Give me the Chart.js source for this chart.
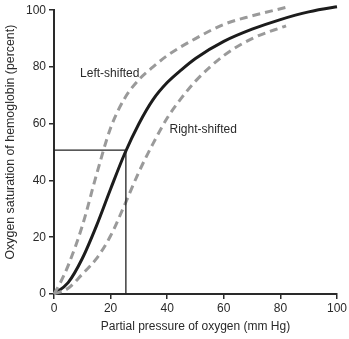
<!DOCTYPE html>
<html>
<head>
<meta charset="utf-8">
<script src="https://cdn.jsdelivr.net/npm/chart.js@4/dist/chart.umd.min.js"></script>
<style>
  html, body { margin: 0; padding: 0; background: #fff; }
  #wrap { width: 349px; height: 339px; }
</style>
</head>
<body>
<div id="wrap"><canvas id="odc"></canvas></div>
<script>
// partial pressure (mm Hg) and saturation (%) for each curve
let normalPO2 = [0, 5, 10, 15, 20, 25, 30, 35, 40, 45, 50, 60, 70, 80, 90, 100, 102];
let normalSat = [0, 4, 12.5, 24, 37, 49.5, 60, 68.5, 74.5, 79, 83, 89, 93.3, 96.7, 99.4, 101.2, 101.5];

let leftPO2 = [0, 2, 5, 10, 15, 20, 25, 30, 35, 40, 50, 60, 70, 82];
let leftSat = [0, 3.5, 10, 24, 42, 58.5, 69, 75.5, 80, 84, 90, 95, 98, 101];

let rightPO2 = [0, 5, 10, 15, 20, 25, 30, 35, 40, 45, 50, 60, 70, 82];
let rightSat = [0, 2, 7, 12.5, 20.5, 31.5, 43, 53, 62, 69, 75, 84, 90, 94.5];

// P50 marker: drop lines from the 50% point
let p50 = 25.4;
let p50Sat = 50.7;

let xTicks = [0, 20, 40, 60, 80, 100];
let yTicks = [0, 20, 40, 60, 80, 100];

let xTitle = "Partial pressure of oxygen (mm Hg)";
let yTitle = "Oxygen saturation of hemoglobin (percent)";

let curveLabels = [
  { text: "Left-shifted", x: 9.2, y: 77.5 },
  { text: "Right-shifted", x: 40.8, y: 58 }
];

function toPoints(xs, ys) {
  return xs.map((x, i) => ({ x: x, y: ys[i] }));
}

const FONT = "'Liberation Sans', Arial, sans-serif";
const INK = "#2a2a2a";

// curve names inside the plot, plus the y title (sits a little above centre)
let labelPlugin = {
  id: "curveLabels",
  afterDatasetsDraw(chart) {
    let c = chart.ctx;
    let sx = chart.scales.x, sy = chart.scales.y;
    let area = chart.chartArea;
    c.save();
    c.font = "12px " + FONT;
    c.fillStyle = INK;
    c.textAlign = "left";
    c.textBaseline = "middle";
    curveLabels.forEach(l => {
      c.fillText(l.text, sx.getPixelForValue(l.x), sy.getPixelForValue(l.y));
    });

    c.font = "12.4px " + FONT;
    c.textAlign = "center";
    c.translate(11, (area.top + area.bottom) / 2 - 10);
    c.rotate(-Math.PI / 2);
    c.fillText(yTitle, 0, 0);
    c.restore();
  }
};

function curve(xs, ys, color, dash) {
  return {
    data: toPoints(xs, ys),
    showLine: true,
    borderColor: color,
    borderWidth: 3,
    borderDash: dash,
    pointRadius: 0,
    cubicInterpolationMode: "monotone",
    clip: false
  };
}

let ctx = document.getElementById("odc").getContext("2d");
let chart = new Chart(ctx, {
  type: "scatter",
  data: {
    datasets: [
      {
        data: [{ x: 0, y: p50Sat }, { x: p50, y: p50Sat }, { x: p50, y: 0 }],
        showLine: true,
        borderColor: "#222",
        borderWidth: 1.3,
        pointRadius: 0,
        tension: 0
      },
      curve(leftPO2, leftSat, "#9a9a9a", [8, 5]),
      curve(rightPO2, rightSat, "#9a9a9a", [8, 5]),
      curve(normalPO2, normalSat, "#1c1c1c", [])
    ]
  },
  options: {
    responsive: true,
    maintainAspectRatio: false,
    animation: false,
    layout: { padding: { top: 8, right: 10, left: 0, bottom: 0 } },
    plugins: { legend: { display: false }, tooltip: { enabled: false } },
    scales: {
      x: {
        type: "linear",
        min: 0,
        max: 100,
        afterBuildTicks: s => { s.ticks = xTicks.map(v => ({ value: v })); },
        afterFit: s => { s.height = 45; },
        ticks: { color: INK, font: { family: FONT, size: 12 }, padding: 2, maxRotation: 0 },
        grid: { drawOnChartArea: false, drawTicks: true, tickLength: 5, color: INK, lineWidth: 1.5 },
        border: { color: INK, width: 2 },
        title: {
          display: true,
          text: xTitle,
          color: INK,
          font: { family: FONT, size: 12 },
          padding: { top: 0, bottom: 5 }
        }
      },
      y: {
        type: "linear",
        min: 0,
        max: 100,
        afterBuildTicks: s => { s.ticks = yTicks.map(v => ({ value: v })); },
        afterFit: s => { s.width = 54; },
        ticks: { color: INK, font: { family: FONT, size: 12 }, padding: 3 },
        grid: { drawOnChartArea: false, drawTicks: true, tickLength: 5, color: INK, lineWidth: 1.5 },
        border: { color: INK, width: 2 },
        title: { display: false }
      }
    }
  },
  plugins: [labelPlugin]
});
</script>
</body>
</html>
